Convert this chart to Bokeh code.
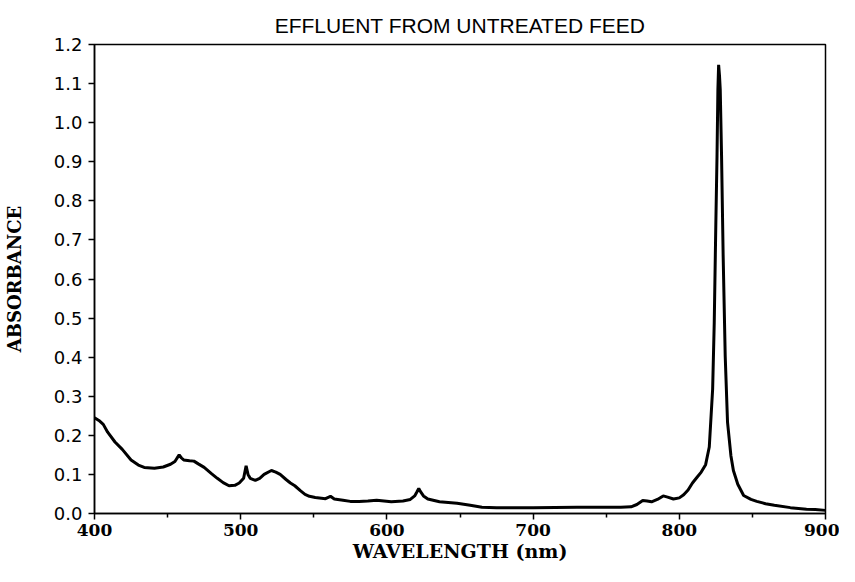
from bokeh.plotting import figure
from bokeh.models import Range1d, FixedTicker, PrintfTickFormatter
from bokeh.embed import file_html
from bokeh.resources import INLINE

title_text = "EFFLUENT FROM UNTREATED FEED"
x_label = "WAVELENGTH (nm)"
y_label = "ABSORBANCE"

x_major = [400, 500, 600, 700, 800, 900]
x_minor = [450, 550, 650, 750, 850]
y_major = [0.0, 0.1, 0.2, 0.3, 0.4, 0.5, 0.6, 0.7, 0.8, 0.9, 1.0, 1.1, 1.2]

wavelength = [
    400, 403, 406, 409, 414, 419, 425, 430, 434, 441, 447, 452, 455, 457.9, 459.5,
    461, 465, 468, 471, 475, 480, 484, 488, 492, 496, 499, 502, 503.7, 505, 506.5,
    510, 513, 516, 521, 524, 527, 531, 534, 537, 541, 544, 547, 551, 558, 561.4,
    564, 570, 575, 581, 587, 593, 598, 603, 611, 616, 619, 620.5, 621.8, 623, 625,
    628, 636, 648, 657, 665, 675, 700, 730, 760, 767, 771, 775, 778, 781, 785,
    789, 792, 796, 800, 803, 806, 809, 812, 815, 818, 820.5, 822.8, 823.9, 825, 825.8,
    826.4, 826.9, 827.5, 828, 828.9, 830, 831.4, 833, 835.3, 837, 840, 844, 849, 853,
    859, 865, 876, 887, 893, 900,
]
absorbance = [
    0.245, 0.238, 0.228, 0.208, 0.183, 0.164, 0.137, 0.124, 0.118, 0.116, 0.119, 0.126, 0.133, 0.150, 0.142,
    0.137, 0.135, 0.134, 0.127, 0.118, 0.102, 0.090, 0.079, 0.071, 0.072, 0.078, 0.090, 0.122, 0.100, 0.090,
    0.085, 0.090, 0.100, 0.110, 0.106, 0.100, 0.087, 0.078, 0.071, 0.058, 0.049, 0.044, 0.041, 0.038, 0.044,
    0.037, 0.034, 0.031, 0.031, 0.032, 0.034, 0.032, 0.030, 0.032, 0.036, 0.045, 0.055, 0.064, 0.056, 0.045,
    0.037, 0.030, 0.026, 0.021, 0.016, 0.015, 0.015, 0.016, 0.016, 0.017, 0.023, 0.033, 0.032, 0.030, 0.036,
    0.045, 0.042, 0.037, 0.040, 0.048, 0.060, 0.078, 0.092, 0.106, 0.125, 0.170, 0.318, 0.488, 0.744, 0.915,
    1.085, 1.148, 1.120, 1.085, 0.915, 0.659, 0.403, 0.233, 0.148, 0.110, 0.075, 0.046, 0.036, 0.031,
    0.025, 0.021, 0.015, 0.011, 0.010, 0.008,
]

p = figure(width=839, height=566, output_backend="svg", toolbar_location=None,
           x_range=Range1d(400, 900), y_range=Range1d(0, 1.2),
           min_border_left=90, min_border_right=14, min_border_top=44, min_border_bottom=53)

p.title.text = title_text
p.title.align = "center"
p.title.text_font = "Liberation Sans"
p.title.text_font_size = "21px"
p.title.text_font_style = "normal"
p.title.text_color = "black"
p.title.standoff = 16

p.line(wavelength, absorbance, line_color="black", line_width=3)

p.grid.visible = False
p.background_fill_color = "white"
p.border_fill_color = "white"
p.outline_line_color = "black"
p.outline_line_width = 1.5

xa = p.xaxis[0]
xa.ticker = FixedTicker(ticks=x_major, minor_ticks=x_minor)
xa.axis_label = x_label
xa.axis_label_text_font = "DejaVu Serif"
xa.axis_label_text_font_style = "bold"
xa.axis_label_text_font_size = "19px"
xa.axis_label_standoff = 1
xa.major_label_text_font = "DejaVu Serif"
xa.major_label_text_font_style = "bold"
xa.major_label_text_font_size = "17px"
xa.major_label_standoff = 4
xa.major_tick_out = 6
xa.major_tick_in = 0
xa.minor_tick_out = 4
xa.minor_tick_in = 0
xa.axis_line_width = 1.5
xa.major_tick_line_width = 1.5
xa.minor_tick_line_width = 1.5

ya = p.yaxis[0]
ya.ticker = FixedTicker(ticks=y_major, minor_ticks=[])
ya.formatter = PrintfTickFormatter(format="%.1f")
ya.axis_label = y_label
ya.axis_label_text_font = "DejaVu Serif"
ya.axis_label_text_font_style = "bold"
ya.axis_label_text_font_size = "18px"
ya.axis_label_standoff = 26
ya.major_label_text_font = "DejaVu Sans"
ya.major_label_text_font_size = "18px"
ya.major_label_standoff = 6
ya.major_tick_out = 6
ya.major_tick_in = 0
ya.axis_line_width = 1.5
ya.major_tick_line_width = 1.5

for ax in (xa, ya):
    ax.axis_line_color = "black"
    ax.major_tick_line_color = "black"
    ax.minor_tick_line_color = "black"
    ax.major_label_text_color = "black"
    ax.axis_label_text_color = "black"

open("out.html", "w").write(file_html(p, INLINE))
